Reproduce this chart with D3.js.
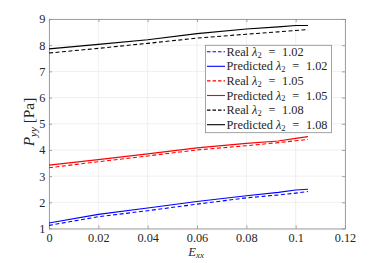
<!DOCTYPE html>
<html>
<head>
<meta charset="utf-8">
<script src="https://cdn.jsdelivr.net/npm/d3@7"></script>
<style>
  body { margin: 0; background: #fff; }
  svg text { font-family: 'Liberation Serif', 'DejaVu Serif', serif; fill: #262626; }
</style>
</head>
<body>
<div id="chart"></div>
<script>
// strain values (E_xx) and stress P_yy for each lambda_2
const strain = [0, 0.02, 0.04, 0.06, 0.08, 0.093, 0.1, 0.105];
const real102 = [1.12, 1.45, 1.68, 1.93, 2.17, 2.28, 2.35, 2.41];
const pred102 = [1.21, 1.54, 1.78, 2.03, 2.25, 2.38, 2.47, 2.50];
const real105 = [3.32, 3.55, 3.77, 4.00, 4.16, 4.28, 4.35, 4.40];
const pred105 = [3.42, 3.63, 3.85, 4.08, 4.25, 4.34, 4.44, 4.51];
const real108 = [7.70, 7.88, 8.07, 8.27, 8.42, 8.51, 8.56, 8.60];
const pred108 = [7.86, 8.03, 8.21, 8.44, 8.62, 8.70, 8.75, 8.75];

const xTicks = [0, 0.02, 0.04, 0.06, 0.08, 0.1, 0.12];
const yTicks = [1, 2, 3, 4, 5, 6, 7, 8, 9];

const series = [
  { kind: "Real", lam: "1.02", color: "#0000ff", dash: true, values: real102 },
  { kind: "Predicted", lam: "1.02", color: "#0000ff", dash: false, values: pred102 },
  { kind: "Real", lam: "1.05", color: "#ff0000", dash: true, values: real105 },
  { kind: "Predicted", lam: "1.05", color: "#ff0000", dash: false, values: pred105 },
  { kind: "Real", lam: "1.08", color: "#000000", dash: true, values: real108 },
  { kind: "Predicted", lam: "1.08", color: "#000000", dash: false, values: pred108 },
];

const width = 382, height = 263;
const m = { left: 49, right: 37, top: 19, bottom: 34.5 };

const svg = d3.select("#chart").append("svg")
  .attr("width", width).attr("height", height);

const x = d3.scaleLinear().domain([0, 0.12]).range([m.left, width - m.right]);
const y = d3.scaleLinear().domain([1, 9]).range([height - m.bottom, m.top]);

// scale a text (and its tspans) so its width matches the reference
function fitWidth(textSel, target) {
  const w = textSel.node().getBBox().width;
  if (!w) return 1;
  const k = target / w;
  textSel.attr("font-size", +textSel.attr("font-size") * k);
  textSel.selectAll("tspan").each(function () {
    const s = d3.select(this);
    if (s.attr("font-size")) s.attr("font-size", +s.attr("font-size") * k);
    if (s.attr("dy")) s.attr("dy", +s.attr("dy") * k);
  });
  return k;
}

// grid
const grid = svg.append("g");
grid.selectAll(".gx").data(xTicks).join("line")
  .attr("x1", d => x(d)).attr("x2", d => x(d))
  .attr("y1", y(1)).attr("y2", y(9))
  .attr("stroke", "#ebebeb").attr("stroke-width", 0.8);
grid.selectAll(".gy").data(yTicks).join("line")
  .attr("x1", x(0)).attr("x2", x(0.12))
  .attr("y1", d => y(d)).attr("y2", d => y(d))
  .attr("stroke", "#ebebeb").attr("stroke-width", 0.8);

// axes
const fmtX = d => d === 0 ? "0" : String(+d.toFixed(2));
const xAxis = svg.append("g").attr("transform", `translate(0,${y(1)})`)
  .call(d3.axisBottom(x).tickValues(xTicks).tickFormat(fmtX).tickSizeInner(-3).tickSizeOuter(0).tickPadding(5));
const yAxis = svg.append("g").attr("transform", `translate(${x(0)},0)`)
  .call(d3.axisLeft(y).tickValues(yTicks).tickSizeInner(-3).tickSizeOuter(0).tickPadding(3.5));
const xTop = svg.append("g").attr("transform", `translate(0,${y(9)})`)
  .call(d3.axisTop(x).tickValues(xTicks).tickFormat("").tickSizeInner(-3).tickSizeOuter(0));
const yRight = svg.append("g").attr("transform", `translate(${x(0.12)},0)`)
  .call(d3.axisRight(y).tickValues(yTicks).tickFormat("").tickSizeInner(-3).tickSizeOuter(0));

[xAxis, yAxis, xTop, yRight].forEach(g => {
  g.attr("font-family", null).attr("font-size", null);
  g.select(".domain").attr("stroke", "#8c8c8c").attr("stroke-width", 0.8);
  g.selectAll(".tick line").attr("stroke", "#8c8c8c").attr("stroke-width", 0.8);
  g.selectAll(".tick text").attr("font-size", 10).attr("fill", "#262626");
});
// "0.12" is about 21.5 px wide in the reference
const tickK = fitWidth(xAxis.selectAll(".tick text").filter(d => d === 0.12), 21.5);
xAxis.selectAll(".tick text").attr("font-size", 10 * tickK);
yAxis.selectAll(".tick text").attr("font-size", 10 * tickK);

// data lines
const line = d3.line().x((d, i) => x(strain[i])).y(d => y(d));
svg.append("g").selectAll("path").data(series).join("path")
  .attr("d", d => line(d.values))
  .attr("fill", "none")
  .attr("stroke", d => d.color)
  .attr("stroke-width", 1.1)
  .attr("stroke-dasharray", d => d.dash ? "4,2.5" : null);

// axis labels
const xl = svg.append("text").attr("x", 188.3).attr("y", 255.5)
  .attr("font-size", 12).attr("font-style", "italic");
xl.append("tspan").text("E");
xl.append("tspan").attr("font-size", 8.5).attr("dy", 2).text("xx");
fitWidth(xl, 17);

const yl = svg.append("text").attr("transform", "translate(33.5,122) rotate(-90)")
  .attr("text-anchor", "middle").attr("font-size", 12);
yl.append("tspan").attr("font-style", "italic").text("P");
yl.append("tspan").attr("font-style", "italic").attr("font-size", 8.5).attr("dy", 2.5).text("yy");
yl.append("tspan").attr("dy", -2.5).text(" [Pa]");
fitWidth(yl, 50);

// legend
const lg = svg.append("g");
lg.append("rect").attr("x", 205.5).attr("y", 45.3).attr("width", 126).attr("height", 87.4)
  .attr("fill", "#fff").attr("stroke", "#8c8c8c").attr("stroke-width", 0.8);
const rows = lg.selectAll("g.row").data(series).join("g")
  .attr("transform", (d, i) => `translate(0,${51.7 + i * 14.6})`);
rows.append("line").attr("x1", 207).attr("x2", 225).attr("y1", 0).attr("y2", 0)
  .attr("stroke", d => d.color).attr("stroke-width", 1.1)
  .attr("stroke-dasharray", d => d.dash ? "3.5,2" : null);
const lt = rows.append("text").attr("x", 226.5).attr("y", 4).attr("font-size", 12.3);
lt.append("tspan").text(d => d.kind + " ");
lt.append("tspan").attr("font-style", "italic").text("λ");
lt.append("tspan").attr("font-size", 8.5).attr("dy", 1.8).text("2");
const eqs = lt.append("tspan").attr("class", "eq").attr("dy", -1.8).text("=");
const nums = lt.append("tspan").attr("class", "num").text(d => d.lam);
// math spacing: widen the gaps around "=" so the longest entry spans ~101 px
const widest = lt.filter(d => d.kind === "Predicted" && d.lam === "1.02");
const gap = Math.max(2, (101 - widest.node().getBBox().width) / 2);
eqs.attr("dx", gap);
nums.attr("dx", gap);
</script>
</body>
</html>
